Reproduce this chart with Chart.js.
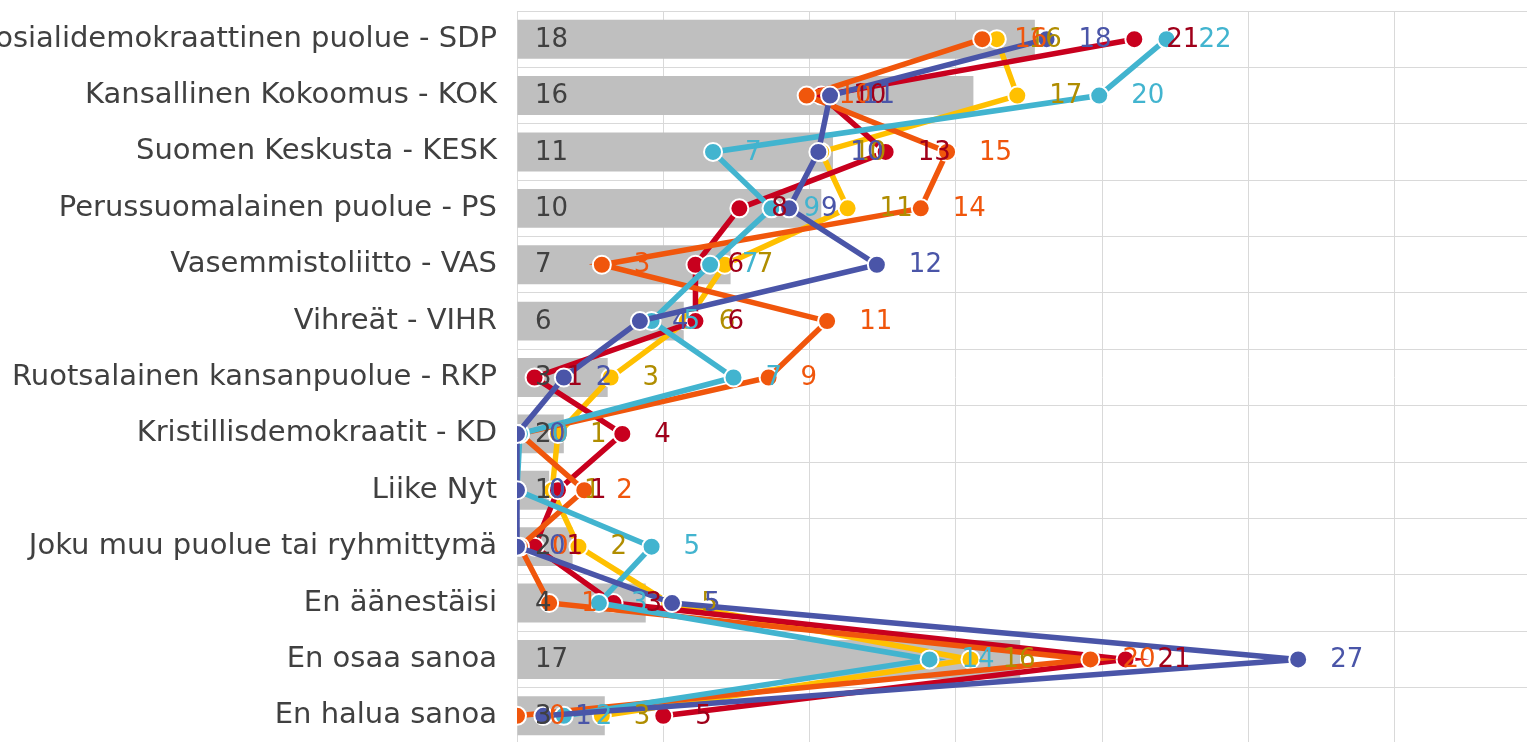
<!DOCTYPE html>
<html>
<head>
<meta charset="utf-8">
<script src="https://cdn.jsdelivr.net/npm/chart.js@4.4.1/dist/chart.umd.min.js"></script>
<style>
  html, body { margin: 0; padding: 0; background: #fff; overflow: hidden; width: 1527px; height: 742px; }
  #wrap { position: absolute; left: -40px; top: 0; width: 1600px; height: 755px; }
  canvas { display: block; }
</style>
</head>
<body>
<div id="wrap"><canvas id="c" width="1600" height="755" style="width:1600px;height:755px"></canvas></div>
<script>
// ---- Data ----
const categories = [
  "Sosialidemokraattinen puolue - SDP",
  "Kansallinen Kokoomus - KOK",
  "Suomen Keskusta - KESK",
  "Perussuomalainen puolue - PS",
  "Vasemmistoliitto - VAS",
  "Vihreät - VIHR",
  "Ruotsalainen kansanpuolue - RKP",
  "Kristillisdemokraatit - KD",
  "Liike Nyt",
  "Joku muu puolue tai ryhmittymä",
  "En äänestäisi",
  "En osaa sanoa",
  "En halua sanoa"
];
const totalValues  = [17.7, 15.6, 10.8, 10.4, 7.3, 5.7, 3.1, 1.6, 1.1, 1.9, 4.4, 17.2, 3.0];
const yellowValues = [16.4, 17.1, 10.4, 11.3, 7.1, 5.8, 3.2, 1.4, 1.2, 2.1, 5.2, 15.5, 2.9];
const redValues    = [21.1, 10.4, 12.6, 7.6, 6.1, 6.1, 0.6, 3.6, 1.4, 0.6, 3.3, 20.8, 5.0];
const orangeValues = [15.9, 9.9, 14.7, 13.8, 2.9, 10.6, 8.6, 0.1, 2.3, 0.1, 1.1, 19.6, 0.0];
const cyanValues   = [22.2, 19.9, 6.7, 8.7, 6.6, 4.6, 7.4, 0.1, 0.0, 4.6, 2.8, 14.1, 1.6];
const blueValues   = [18.1, 10.7, 10.3, 9.3, 12.3, 4.2, 1.6, 0.0, 0.0, 0.0, 5.3, 26.7, 0.9];
const xTicksMax = 35;

// ---- Styles ----
const FONT = "'DejaVu Sans', Verdana, sans-serif";
const lineSeries = [
  { data: yellowValues, color: '#FFC000', label: '#B08D00', order: 5 },
  { data: redValues,    color: '#C8001E', label: '#A0001A', order: 4 },
  { data: orangeValues, color: '#F0560C', label: '#F0560C', order: 3 },
  { data: cyanValues,   color: '#42B4CF', label: '#42B4CF', order: 2 },
  { data: blueValues,   color: '#4A55A8', label: '#4A55A8', order: 1 }
];

const datasets = [{
  type: 'bar',
  data: totalValues,
  backgroundColor: '#BFBFBF',
  barPercentage: 0.69,
  categoryPercentage: 1.0,
  indexAxis: 'y',
  order: 10,
  _labelColor: '#404040'
}];
lineSeries.forEach(s => datasets.push({
  type: 'line',
  data: s.data,
  indexAxis: 'y',
  borderColor: s.color,
  backgroundColor: s.color,
  borderWidth: 5.5,
  tension: 0,
  fill: false,
  pointRadius: 9,
  pointBorderWidth: 2,
  pointBorderColor: '#FFFFFF',
  pointBackgroundColor: s.color,
  order: s.order,
  _labelColor: s.label
}));

const labelPlugin = {
  id: 'valueLabels',
  afterDatasetsDraw(chart) {
    const ctx = chart.ctx;
    ctx.save();
    ctx.font = "26px " + FONT;
    ctx.textBaseline = 'middle';
    ctx.textAlign = 'left';
    const x0 = chart.scales.x.getPixelForValue(0);
    const barMeta = chart.getDatasetMeta(0);
    ctx.fillStyle = chart.data.datasets[0]._labelColor;
    barMeta.data.forEach((el, i) => {
      ctx.fillText(String(Math.round(totalValues[i])), x0 + 18, el.y + 1);
    });
    [1, 2, 3, 4, 5].forEach(di => {
      const ds = chart.data.datasets[di];
      const meta = chart.getDatasetMeta(di);
      ctx.fillStyle = ds._labelColor;
      meta.data.forEach((pt, i) => {
        ctx.fillText(String(Math.round(ds.data[i])), pt.x + 32, pt.y + 1);
      });
    });
    ctx.restore();
  }
};

function zeroPad(scale) {
  scale.paddingTop = 0; scale.paddingBottom = 0;
  scale.paddingLeft = 0; scale.paddingRight = 0;
}

new Chart(document.getElementById('c'), {
  data: { labels: categories, datasets },
  options: {
    indexAxis: 'y',
    responsive: false,
    animation: false,
    devicePixelRatio: 1,
    layout: { padding: { top: 10, right: 19, bottom: 0, left: 0 } },
    plugins: { legend: { display: false }, tooltip: { enabled: false } },
    scales: {
      x: {
        type: 'linear',
        min: 0,
        max: xTicksMax,
        ticks: { display: false, stepSize: 5 },
        grid: { color: '#D9D9D9', lineWidth: 1, drawTicks: false },
        border: { display: false },
        afterFit(scale) { scale.height = 0; zeroPad(scale); }
      },
      y: {
        type: 'category',
        ticks: { color: '#404040', font: { family: FONT, size: 29 }, padding: 20 },
        grid: { color: '#D9D9D9', lineWidth: 1, offset: true, drawTicks: false },
        border: { display: false },
        afterFit(scale) { scale.width = 557; zeroPad(scale); }
      }
    }
  },
  plugins: [labelPlugin]
});
</script>
</body>
</html>
